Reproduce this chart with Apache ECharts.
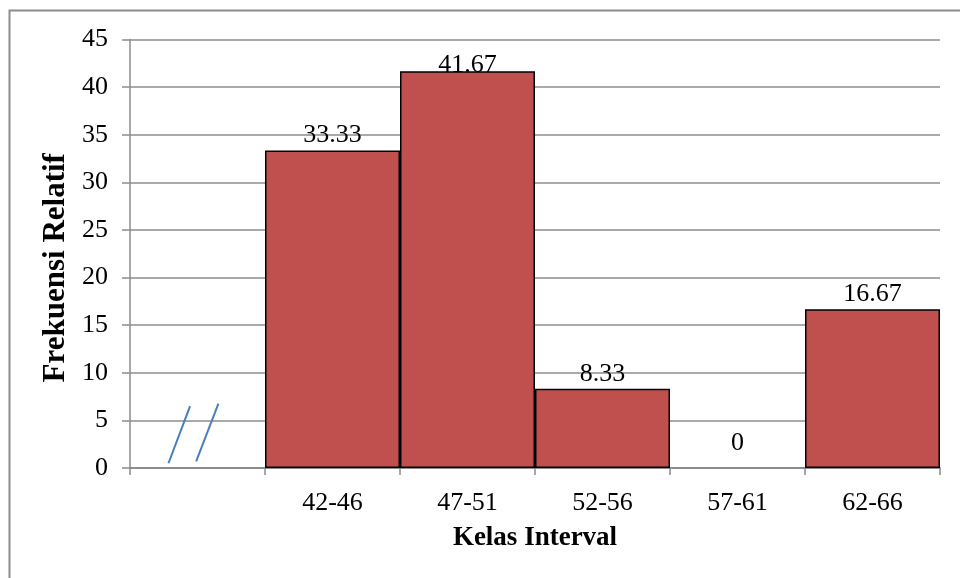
<!DOCTYPE html>
<html>
<head>
<meta charset="utf-8">
<script src="https://cdn.jsdelivr.net/npm/echarts@6/dist/echarts.min.js"></script>
<style>
  html, body { margin: 0; padding: 0; background: #fff; }
  #chart { width: 960px; height: 578px; }
</style>
</head>
<body>
<div id="chart"></div>
<script>
// Class intervals (first slot is left empty for the axis break marks)
const categories = ['', '42-46', '47-51', '52-56', '57-61', '62-66'];
// Relative frequency (%) per class
const frekuensi = [null, 33.33, 41.67, 8.33, 0, 16.67];
// Y axis ticks
const yMin = 0, yMax = 45, yStep = 5;

const serif = '"Liberation Serif", "Times New Roman", serif';
const gridColor = '#8c8c8c';

const chart = echarts.init(document.getElementById('chart'), null, { renderer: 'canvas' });

// Label nudges: the tallest label is pushed down by the plot top, the zero label sits higher
const labelOffsets = { 2: [0, 9], 4: [0, -10] };

const seriesData = frekuensi.map((v, i) => {
  const item = { value: v };
  if (labelOffsets[i]) item.label = { offset: labelOffsets[i] };
  // a zero-height bar shows no outline
  if (v === 0) item.itemStyle = { borderWidth: 0 };
  return item;
});

const option = {
  animation: false,
  backgroundColor: '#fff',
  grid: { left: 130, right: 20, top: 39.5, bottom: 110, containLabel: false },
  xAxis: {
    type: 'category',
    data: categories,
    name: 'Kelas Interval',
    nameLocation: 'middle',
    nameGap: 57,
    nameTextStyle: { fontFamily: serif, fontSize: 27, fontWeight: 'bold', color: '#000' },
    axisLine: { lineStyle: { color: gridColor, width: 2 } },
    axisTick: { show: true, alignWithLabel: false, length: 7, lineStyle: { color: gridColor, width: 1.5 } },
    axisLabel: { fontFamily: serif, fontSize: 26, color: '#000', margin: 22, interval: 0 },
    splitLine: { show: false }
  },
  yAxis: {
    type: 'value',
    min: yMin, max: yMax, interval: yStep,
    name: 'Frekuensi Relatif',
    nameLocation: 'middle',
    nameGap: 54,
    nameRotate: 90,
    nameTextStyle: { fontFamily: serif, fontSize: 31, fontWeight: 'bold', color: '#000', padding: [0, 28, 0, 0] },
    axisLine: { show: true, lineStyle: { color: gridColor, width: 1.5 } },
    axisTick: { show: true, length: 8, lineStyle: { color: gridColor, width: 1.5 } },
    axisLabel: { fontFamily: serif, fontSize: 26, color: '#000', margin: 22 },
    splitLine: { show: true, lineStyle: { color: gridColor, width: 1.5 } }
  },
  series: [{
    type: 'bar',
    data: seriesData,
    barCategoryGap: '0%',
    itemStyle: { color: '#C0504D', borderColor: '#000', borderWidth: 1.5 },
    label: {
      show: true,
      position: 'top',
      distance: 2,
      fontFamily: serif,
      fontSize: 26,
      color: '#000',
      formatter: p => (p.value === null || p.value === undefined) ? '' : String(p.value)
    }
  }]
};

chart.setOption(option);

// Axis break marks "//" in the empty first slot, placed through the chart's own scales
function drawBreakMarks() {
  const c0 = chart.convertToPixel({ xAxisIndex: 0 }, categories[0]);
  const c1 = chart.convertToPixel({ xAxisIndex: 0 }, categories[1]);
  const band = c1 - c0;
  const y = v => chart.convertToPixel({ yAxisIndex: 0 }, v);
  const marks = [
    { x1: -0.215, v1: 0.5, x2: -0.055, v2: 6.5 },
    { x1: -0.01, v1: 0.7, x2: 0.155, v2: 6.75 }
  ];
  const frame = {
    type: 'rect',
    left: 7, top: 8,
    shape: { width: 980, height: 600 },
    style: { fill: 'none', stroke: '#8c8c8c', lineWidth: 2 },
    z: -10, silent: true
  };
  chart.setOption({
    graphic: [frame].concat(marks.map(m => ({
      type: 'line',
      shape: { x1: c0 + m.x1 * band, y1: y(m.v1), x2: c0 + m.x2 * band, y2: y(m.v2) },
      style: { stroke: '#4A7EBB', lineWidth: 2 },
      silent: true
    })))
  });
}
drawBreakMarks();
</script>
</body>
</html>
